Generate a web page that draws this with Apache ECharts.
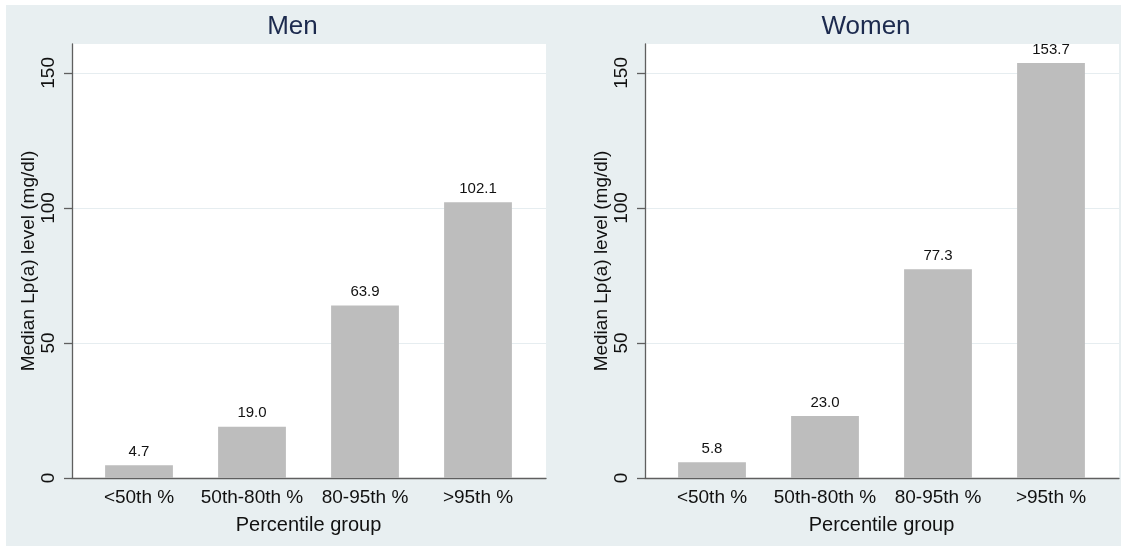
<!DOCTYPE html>
<html>
<head>
<meta charset="utf-8">
<script src="https://cdn.jsdelivr.net/npm/echarts@6/dist/echarts.min.js"></script>
<style>
html,body{margin:0;padding:0;background:#ffffff;width:1121px;height:546px;overflow:hidden;}
#chart{position:absolute;left:6px;top:5px;width:1115px;height:541px;}
</style>
</head>
<body>
<div id="chart"></div>
<script>
const categories = ['<50th %', '50th-80th %', '80-95th %', '>95th %'];
const menValues = [4.7, 19.0, 63.9, 102.1];
const womenValues = [5.8, 23.0, 77.3, 153.7];
const yTicks = [0, 50, 100, 150];
const panelTitles = ['Men', 'Women'];
const yAxisTitle = 'Median Lp(a) level (mg/dl)';
const xAxisTitle = 'Percentile group';
const yMax = 160.7;

const FONT = 'Liberation Sans, Arial, sans-serif';
const panels = [
  { title: panelTitles[0], values: menValues, bgLeft: 66, titleX: 281.5 },
  { title: panelTitles[1], values: womenValues, bgLeft: 639, titleX: 855 }
];

const grid = [], xAxis = [], yAxis = [], series = [], title = [];
panels.forEach((p, i) => {
  const bgIdx = i * 2, barIdx = i * 2 + 1;
  grid.push({ left: p.bgLeft, top: 39, width: 474, height: 434, show: true, backgroundColor: '#ffffff', borderWidth: 0 });
  grid.push({ left: p.bgLeft + 10.5, top: 39, width: 452, height: 434 });
  xAxis.push({ gridIndex: bgIdx, type: 'value', min: 0, max: 1, axisLine: { show: true, lineStyle: { color: '#5f5f5f', width: 1.3 } }, axisTick: { show: false }, axisLabel: { show: false }, splitLine: { show: false } });
  yAxis.push({
    gridIndex: bgIdx, type: 'value', min: 0, max: yMax,
    axisLine: { show: true, lineStyle: { color: '#5f5f5f', width: 1.3 } },
    axisTick: { show: true, length: 8, customValues: yTicks, lineStyle: { color: '#5f5f5f', width: 1.3 } },
    axisLabel: { show: true, customValues: yTicks, rotate: 90, margin: 14, fontSize: 19, color: '#111', fontFamily: FONT },
    splitLine: { show: true, lineStyle: { color: '#e6edf0', width: 1 } },
    name: yAxisTitle, nameLocation: 'middle', nameGap: 31,
    nameTextStyle: { fontSize: 19, color: '#111', fontFamily: FONT }
  });
  xAxis.push({
    gridIndex: barIdx, type: 'category', data: categories, boundaryGap: true,
    axisLine: { show: false }, axisTick: { show: false },
    axisLabel: { fontSize: 19, color: '#111', margin: 10, fontFamily: FONT, interval: 0 },
    name: xAxisTitle, nameLocation: 'middle', nameGap: 37,
    nameTextStyle: { fontSize: 20, color: '#111', fontFamily: FONT }
  });
  yAxis.push({ gridIndex: barIdx, type: 'value', min: 0, max: yMax, show: false, splitLine: { show: false } });
  series.push({
    type: 'bar', xAxisIndex: barIdx, yAxisIndex: barIdx, data: p.values, barWidth: '60%',
    itemStyle: { color: '#bdbdbd' },
    label: { show: true, position: 'top', distance: 6, fontSize: 15, color: '#111', fontFamily: FONT, formatter: (d) => d.value.toFixed(1) }
  });
  title.push({ text: p.title, left: p.titleX, top: 4, textAlign: 'center', textStyle: { fontSize: 26, fontWeight: 'normal', color: '#1c2a4e', fontFamily: FONT } });
});

const chart = echarts.init(document.getElementById('chart'), null, { renderer: 'canvas' });
chart.setOption({
  backgroundColor: '#e8eff1',
  animation: false,
  title, grid, xAxis, yAxis, series
});
</script>
</body>
</html>
